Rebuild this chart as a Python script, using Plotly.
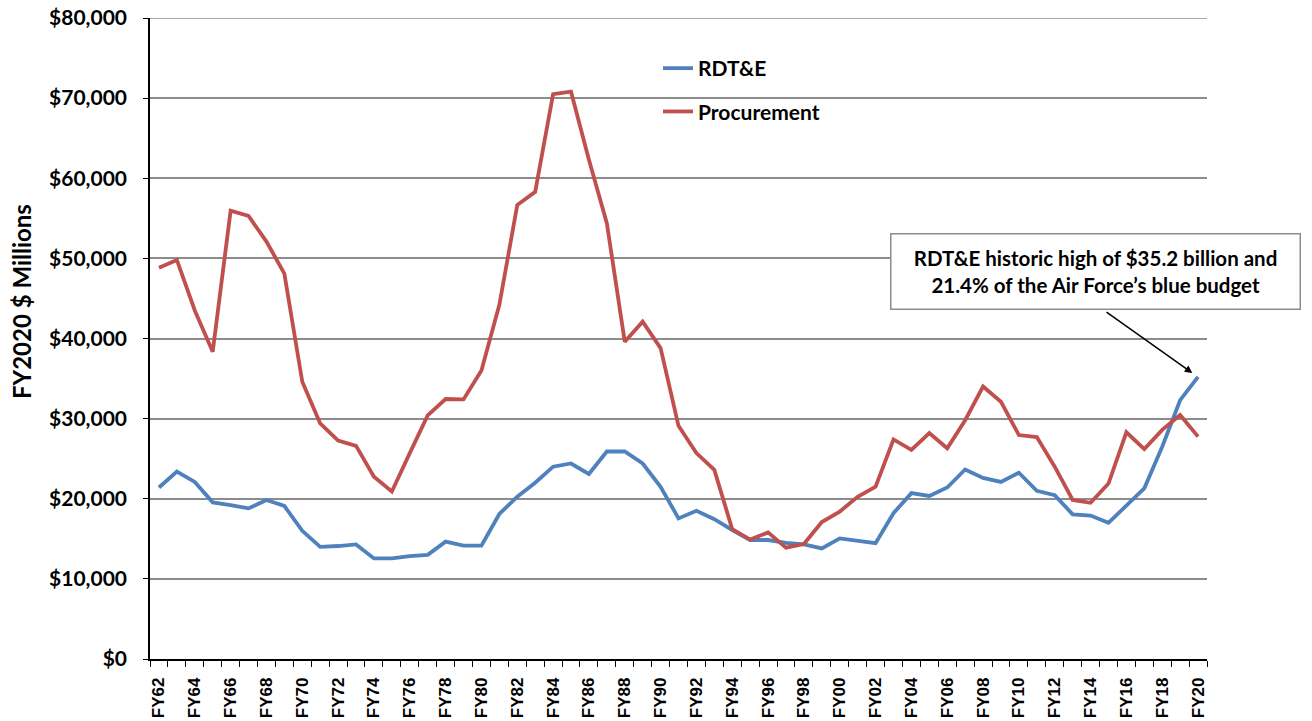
import plotly.graph_objects as go

years = list(range(1962, 2021))
tick_years = list(range(1962, 2021, 2))
tick_labels = ["FY%02d" % (y % 100) for y in tick_years]

rdte = [21.4, 23.4, 22.1, 19.55, 19.2, 18.8, 19.85, 19.1, 16.0, 14.0,
        14.1, 14.3, 12.55, 12.55, 12.85, 13.0, 14.65, 14.15, 14.15, 18.1,
        20.25, 22.0, 24.0, 24.4, 23.1, 25.9, 25.9, 24.4, 21.5, 17.55,
        18.5, 17.45, 16.1, 14.85, 14.85, 14.5, 14.3, 13.8, 15.05, 14.75,
        14.45, 18.2, 20.7, 20.35, 21.4, 23.65, 22.6, 22.1, 23.25, 21.0,
        20.45, 18.05, 17.9, 17.0, 19.1, 21.3, 26.5, 32.3, 35.2]
rdte = [v * 1000 for v in rdte]

procurement = [48.84, 49.8, 43.5, 38.35, 55.95, 55.3, 52.1, 48.1, 34.6, 29.4,
               27.25, 26.6, 22.75, 20.9, 25.7, 30.4, 32.45, 32.4, 36.0, 44.2,
               56.65, 58.3, 70.5, 70.8, 62.3, 54.4, 39.6, 42.1, 38.8, 29.1,
               25.7, 23.6, 16.2, 14.9, 15.8, 13.9, 14.35, 17.1, 18.4, 20.25,
               21.5, 27.4, 26.1, 28.2, 26.3, 29.8, 34.0, 32.1, 27.95, 27.7,
               24.0, 19.85, 19.5, 21.9, 28.3, 26.2, 28.6, 30.45, 27.75]
procurement = [v * 1000 for v in procurement]

y_ticks = list(range(0, 80001, 10000))
y_labels = ["${:,}".format(v) for v in y_ticks]
boundaries = [y - 0.5 for y in years] + [years[-1] + 0.5]

BLUE = "#4F81BD"
RED = "#C0504D"
GRID = "#8c8c8c"

# plot area at x 150..1207, y 18..659 on the page (body margin removed)
L, T, PW, PH = 150, 18, 1057, 641
W, H = 1312, 721


def px(xp):
    return (xp - 150) / PW


def py(yp):
    return (659 - yp) / PH


fig = go.Figure()
fig.add_trace(go.Scatter(x=years, y=rdte, mode="lines", name="RDT&E",
                         line=dict(color=BLUE, width=3.8), legendgroup="a"))
fig.add_trace(go.Scatter(x=years, y=procurement, mode="lines", name="Procurement",
                         line=dict(color=RED, width=3.8), legendgroup="b"))

# top gridline at the end of the range
fig.add_shape(type="line", xref="paper", yref="y", x0=0, x1=1,
              y0=y_ticks[-1], y1=y_ticks[-1], line=dict(color=GRID, width=1.5), layer="below")

# white block behind legend hiding the gridline
fig.add_shape(type="rect", xref="paper", yref="paper",
              x0=px(623), x1=px(858), y0=py(135), y1=py(45),
              fillcolor="white", line=dict(width=0), layer="below")

fig.add_annotation(
    xref="paper", yref="paper", x=px(1095), y=py(271),
    xanchor="center", yanchor="middle",
    text="RDT&E historic high of $35.2 billion and<br>21.4% of the Air Force’s blue budget",
    showarrow=False, align="center",
    font=dict(family="Lato", size=20.5, color="black", weight="bold"),
    bgcolor="white", bordercolor=GRID, borderwidth=1.5,
    width=404, height=70, borderpad=2,
)
fig.add_annotation(
    x=2020, y=35200, xref="x", yref="y", text="",
    showarrow=True, arrowhead=2, arrowsize=1, arrowwidth=1.5, arrowcolor="black",
    ax=-93, ay=-66, standoff=7,
)
# y-axis title
fig.add_annotation(
    xref="paper", yref="paper", x=px(21), y=py(302),
    xanchor="center", yanchor="middle", textangle=-90, showarrow=False,
    text="FY2020 $ Millions",
    font=dict(family="Lato", size=24, color="black", weight="bold"),
)

fig.update_layout(
    width=W, height=H,
    margin=dict(l=L, r=W - L - PW, t=T, b=H - T - PH, autoexpand=False),
    paper_bgcolor="white", plot_bgcolor="white",
    showlegend=True,
    legend=dict(x=px(658), y=py(48), xanchor="left", yanchor="top",
                bgcolor="rgba(0,0,0,0)", traceorder="grouped", tracegroupgap=13,
                font=dict(family="Lato", size=21, color="black", weight="bold")),
    xaxis=dict(
        range=[1961.5, 2020.5], tickmode="array", tickvals=tick_years, ticktext=tick_labels,
        tickangle=-90, ticks="", ticklabelstandoff=10, automargin=False,
        ticklabeloverflow="allow",
        tickfont=dict(family="Liberation Sans", size=17, color="black", weight="bold"),
        showline=True, linecolor="black", linewidth=1.5, showgrid=False, zeroline=False,
        minor=dict(tickmode="array", tickvals=boundaries, ticks="outside", ticklen=6,
                   tickcolor="black", tickwidth=1.2, showgrid=False),
    ),
    yaxis=dict(
        range=[0, 80000], tickmode="array", tickvals=y_ticks, ticktext=y_labels,
        ticks="outside", ticklen=5, tickcolor="black", tickwidth=1.2, ticklabelstandoff=12,
        ticklabeloverflow="allow",
        tickfont=dict(family="Lato", size=21, color="black", weight="bold"),
        showline=True, linecolor="black", linewidth=1.5, automargin=False,
        showgrid=True, gridcolor=GRID, gridwidth=1.5, zeroline=False,
    ),
)

fig.write_html("out.html", config={"displayModeBar": False},
               post_script="document.body.style.margin='0';document.body.style.overflow='hidden';")
